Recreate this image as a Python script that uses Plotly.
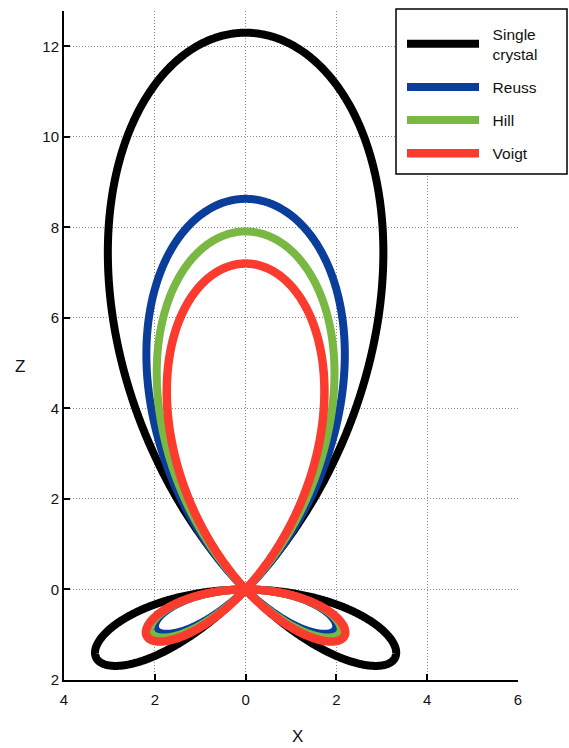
import numpy as np
import plotly.graph_objects as go

# Directional longitudinal coefficient: r(theta) = A cos^3(theta) + B cos(theta) sin^2(theta)
series_names = ["Single<br>crystal", "Reuss", "Hill", "Voigt"]
axial_coef = [12.3, 8.63, 7.91, 7.2]          # value along +Z (theta = 0)
transverse_coef = [-13.1, -8.1, -8.3, -8.5]   # mixed cos*sin^2 term
colors = ["#000000", "#0b3d9b", "#78b843", "#fb3b2d"]
widths = [8, 8, 8, 8.5]

x_ticks = [-4, -2, 0, 2, 4, 6]
x_tick_text = ["4", "2", "0", "2", "4", "6"]
z_ticks = [-2, 0, 2, 4, 6, 8, 10, 12]
z_tick_text = ["2", "0", "2", "4", "6", "8", "10", "12"]

theta = np.linspace(0, np.pi, 1441)
c, s = np.cos(theta), np.sin(theta)

# a little breathing room between legend swatch and label
pad = "\u00a0\u00a0"

fig = go.Figure()
for i, name in enumerate(series_names):
    r = axial_coef[i] * c**3 + transverse_coef[i] * c * s**2
    label = "<br>".join(pad + part for part in name.split("<br>"))
    fig.add_trace(go.Scatter(
        x=r * s, y=r * c, mode="lines", name=label,
        legendgroup=str(i),
        line=dict(color=colors[i], width=widths[i], simplify=False),
    ))

family = "Liberation Sans, Arial, sans-serif"
font = dict(family=family, size=15, color="#111111")
axis_common = dict(
    showgrid=True, gridcolor="#8c8c8c", griddash="1px,2px", gridwidth=1,
    zeroline=False, showline=True, linecolor="black", linewidth=2,
    ticks="inside", ticklen=6, tickwidth=2, tickcolor="black",
    mirror=False, tickfont=font,
)

# paper-coordinate helpers for the legend frame and titles
L, R, T, B = 64, 518, 11, 680
px = lambda v: (v - L) / (R - L)
py = lambda v: (B - v) / (B - T)

fig.update_layout(
    width=569, height=748,
    margin=dict(l=L, r=569 - R, t=T, b=748 - B),
    plot_bgcolor="white", paper_bgcolor="white",
    font=font,
    xaxis=dict(range=[-4, 6], tickvals=x_ticks, ticktext=x_tick_text,
               ticklabelstandoff=5, **axis_common),
    yaxis=dict(range=[-2, 12.78], tickvals=z_ticks, ticktext=z_tick_text, **axis_common),
    legend=dict(
        x=px(402), y=py(17), xanchor="left", yanchor="top",
        bgcolor="rgba(0,0,0,0)", borderwidth=0,
        font=dict(family=family, size=15.5, color="#111111"),
        itemwidth=72, tracegroupgap=10,
    ),
    showlegend=True,
    shapes=[dict(type="rect", xref="paper", yref="paper",
                 x0=px(396), x1=px(567), y0=py(174), y1=py(9),
                 line=dict(color="black", width=1.5), fillcolor="white", layer="above")],
    annotations=[
        dict(text="X", x=px(297), y=py(736), xref="paper", yref="paper",
             xanchor="center", yanchor="middle",
             showarrow=False, font=dict(size=17, family=family)),
        dict(text="Z", x=px(20), y=py(366), xref="paper", yref="paper",
             xanchor="center", yanchor="middle",
             showarrow=False, font=dict(size=17, family=family)),
    ],
)

fig.write_html("out.html")
